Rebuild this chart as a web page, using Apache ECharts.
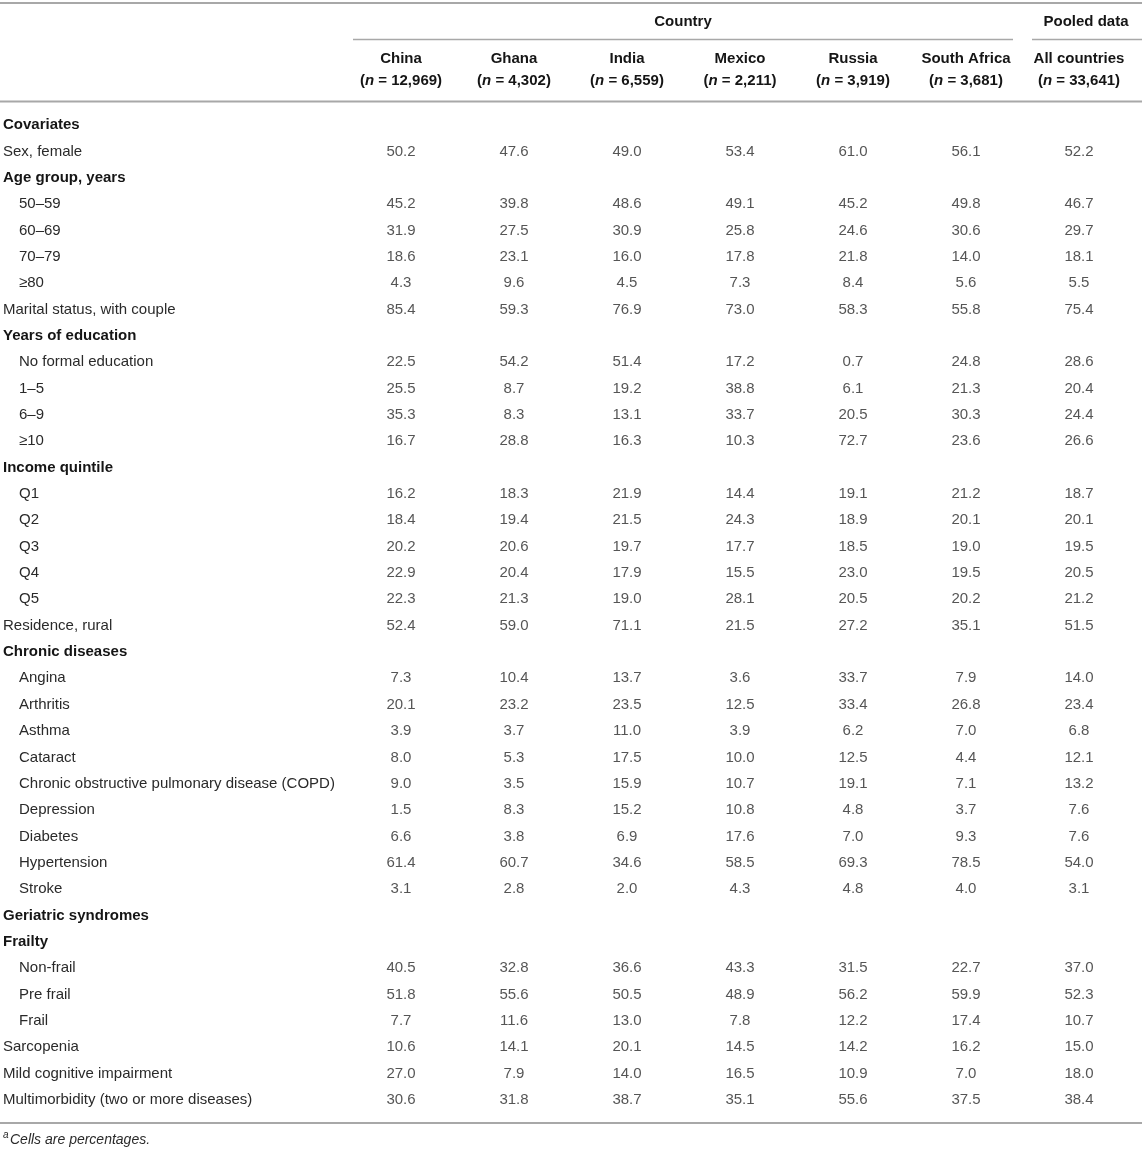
<!DOCTYPE html>
<html>
<head>
<meta charset="utf-8">
<title>Covariates and geriatric syndromes by country</title>
<script src="https://cdn.jsdelivr.net/npm/echarts@6/dist/echarts.min.js"></script>
<style>
  html, body { margin: 0; padding: 0; background: #fff; }
  #chart { width: 1142px; height: 1150px; }
</style>
</head>
<body>
<div id="chart"></div>
<script>
// columns of the table
const countries = ['China', 'Ghana', 'India', 'Mexico', 'Russia', 'South Africa', 'All countries'];
const sampleSizes = ['12,969', '4,302', '6,559', '2,211', '3,919', '3,681', '33,641'];

// row labels, and how each one is drawn: h = bold heading, m = plain, s = indented sub item
const rowLabels = [
  'Covariates', 'Sex, female', 'Age group, years', '50–59', '60–69', '70–79', '≥80',
  'Marital status, with couple', 'Years of education', 'No formal education', '1–5', '6–9', '≥10',
  'Income quintile', 'Q1', 'Q2', 'Q3', 'Q4', 'Q5', 'Residence, rural',
  'Chronic diseases', 'Angina', 'Arthritis', 'Asthma', 'Cataract',
  'Chronic obstructive pulmonary disease (COPD)', 'Depression', 'Diabetes', 'Hypertension', 'Stroke',
  'Geriatric syndromes', 'Frailty', 'Non-frail', 'Pre frail', 'Frail',
  'Sarcopenia', 'Mild cognitive impairment', 'Multimorbidity (two or more diseases)'
];
const rowKinds = [
  'h', 'm', 'h', 's', 's', 's', 's',
  'm', 'h', 's', 's', 's', 's',
  'h', 's', 's', 's', 's', 's', 'm',
  'h', 's', 's', 's', 's',
  's', 's', 's', 's', 's',
  'h', 'h', 's', 's', 's',
  'm', 'm', 'm'
];

// cell values (percentages), null for heading rows
const china = [null, 50.2, null, 45.2, 31.9, 18.6, 4.3, 85.4, null, 22.5, 25.5, 35.3, 16.7,
  null, 16.2, 18.4, 20.2, 22.9, 22.3, 52.4, null, 7.3, 20.1, 3.9, 8.0, 9.0, 1.5, 6.6, 61.4, 3.1,
  null, null, 40.5, 51.8, 7.7, 10.6, 27.0, 30.6];
const ghana = [null, 47.6, null, 39.8, 27.5, 23.1, 9.6, 59.3, null, 54.2, 8.7, 8.3, 28.8,
  null, 18.3, 19.4, 20.6, 20.4, 21.3, 59.0, null, 10.4, 23.2, 3.7, 5.3, 3.5, 8.3, 3.8, 60.7, 2.8,
  null, null, 32.8, 55.6, 11.6, 14.1, 7.9, 31.8];
const india = [null, 49.0, null, 48.6, 30.9, 16.0, 4.5, 76.9, null, 51.4, 19.2, 13.1, 16.3,
  null, 21.9, 21.5, 19.7, 17.9, 19.0, 71.1, null, 13.7, 23.5, 11.0, 17.5, 15.9, 15.2, 6.9, 34.6, 2.0,
  null, null, 36.6, 50.5, 13.0, 20.1, 14.0, 38.7];
const mexico = [null, 53.4, null, 49.1, 25.8, 17.8, 7.3, 73.0, null, 17.2, 38.8, 33.7, 10.3,
  null, 14.4, 24.3, 17.7, 15.5, 28.1, 21.5, null, 3.6, 12.5, 3.9, 10.0, 10.7, 10.8, 17.6, 58.5, 4.3,
  null, null, 43.3, 48.9, 7.8, 14.5, 16.5, 35.1];
const russia = [null, 61.0, null, 45.2, 24.6, 21.8, 8.4, 58.3, null, 0.7, 6.1, 20.5, 72.7,
  null, 19.1, 18.9, 18.5, 23.0, 20.5, 27.2, null, 33.7, 33.4, 6.2, 12.5, 19.1, 4.8, 7.0, 69.3, 4.8,
  null, null, 31.5, 56.2, 12.2, 14.2, 10.9, 55.6];
const southAfrica = [null, 56.1, null, 49.8, 30.6, 14.0, 5.6, 55.8, null, 24.8, 21.3, 30.3, 23.6,
  null, 21.2, 20.1, 19.0, 19.5, 20.2, 35.1, null, 7.9, 26.8, 7.0, 4.4, 7.1, 3.7, 9.3, 78.5, 4.0,
  null, null, 22.7, 59.9, 17.4, 16.2, 7.0, 37.5];
const pooled = [null, 52.2, null, 46.7, 29.7, 18.1, 5.5, 75.4, null, 28.6, 20.4, 24.4, 26.6,
  null, 18.7, 20.1, 19.5, 20.5, 21.2, 51.5, null, 14.0, 23.4, 6.8, 12.1, 13.2, 7.6, 7.6, 54.0, 3.1,
  null, null, 37.0, 52.3, 10.7, 15.0, 18.0, 38.4];

const columns = [china, ghana, india, mexico, russia, southAfrica, pooled];

const FONT = '"Liberation Sans", Arial, Helvetica, sans-serif';
const FS = 15;
const RULE = '#a8a8a8';
const INK = '#2a2a2a';
const BOLD_INK = '#151515';

const chart = echarts.init(document.getElementById('chart'), null, { renderer: 'canvas' });

// one scatter series per column, marks hidden, labels carry the numbers
const series = columns.map((vals, c) => ({
  type: 'scatter',
  name: countries[c],
  symbolSize: 1,
  itemStyle: { color: 'rgba(0,0,0,0)' },
  silent: true,
  label: {
    show: true,
    position: 'inside',
    color: INK,
    fontFamily: FONT,
    fontSize: FS,
    formatter: p => p.value[2].toFixed(1)
  },
  data: vals.map((v, r) => (v == null ? null : [c, r, v])).filter(d => d)
}));

chart.setOption({
  backgroundColor: '#fff',
  animation: false,
  textStyle: { fontFamily: FONT },
  grid: { left: 344.5, right: 6.5, top: 112, bottom: 37 },
  xAxis: {
    type: 'category',
    position: 'top',
    data: countries,
    axisLine: { show: false },
    axisTick: { show: false },
    splitLine: { show: false },
    axisLabel: {
      interval: 0,
      margin: 20,
      formatter: (v, i) => `{b|${v}}\n{p|(}{i|n}{p| = ${sampleSizes[i]})}`,
      rich: {
        b: { fontFamily: FONT, fontSize: FS, fontWeight: 'bold', color: BOLD_INK, lineHeight: 22 },
        p: { fontFamily: FONT, fontSize: FS, fontWeight: 'bold', color: BOLD_INK, lineHeight: 22 },
        i: { fontFamily: FONT, fontSize: FS, fontWeight: 'bold', fontStyle: 'italic', color: BOLD_INK, lineHeight: 22 }
      }
    }
  },
  yAxis: {
    type: 'category',
    inverse: true,
    data: rowLabels,
    axisLine: { show: false },
    axisTick: { show: false },
    splitLine: { show: false },
    axisLabel: {
      interval: 0,
      hideOverlap: false,
      align: 'left',
      margin: 341.5,
      formatter: (v, i) => `{${rowKinds[i]}|${v}}`,
      rich: {
        h: { fontFamily: FONT, fontSize: FS, fontWeight: 'bold', color: BOLD_INK },
        m: { fontFamily: FONT, fontSize: FS, color: INK },
        s: { fontFamily: FONT, fontSize: FS, color: INK, padding: [0, 0, 0, 16] }
      }
    }
  },
  series: series,
  graphic: [
    // table rules
    { type: 'line', shape: { x1: 0, y1: 3, x2: 1142, y2: 3 }, style: { stroke: RULE, lineWidth: 2 } },
    { type: 'line', shape: { x1: 353, y1: 39.5, x2: 1013, y2: 39.5 }, style: { stroke: RULE, lineWidth: 1.5 } },
    { type: 'line', shape: { x1: 1032, y1: 39.5, x2: 1142, y2: 39.5 }, style: { stroke: RULE, lineWidth: 1.5 } },
    { type: 'line', shape: { x1: 0, y1: 101.5, x2: 1142, y2: 101.5 }, style: { stroke: RULE, lineWidth: 2 } },
    { type: 'line', shape: { x1: 0, y1: 1123, x2: 1142, y2: 1123 }, style: { stroke: RULE, lineWidth: 2 } },
    // group headers
    {
      type: 'text', x: 683, y: 22,
      style: { text: 'Country', fontFamily: FONT, fontSize: FS, fontWeight: 'bold', fill: BOLD_INK, align: 'center', verticalAlign: 'middle' }
    },
    {
      type: 'text', x: 1086, y: 22,
      style: { text: 'Pooled data', fontFamily: FONT, fontSize: FS, fontWeight: 'bold', fill: BOLD_INK, align: 'center', verticalAlign: 'middle' }
    },
    // footnote
    {
      type: 'text', x: 3, y: 1135,
      style: { text: 'a', fontFamily: FONT, fontSize: 10, fontStyle: 'italic', fill: INK, verticalAlign: 'middle' }
    },
    {
      type: 'text', x: 10, y: 1140,
      style: { text: 'Cells are percentages.', fontFamily: FONT, fontSize: 14, fontStyle: 'italic', fill: INK, verticalAlign: 'middle' }
    }
  ]
});
</script>
</body>
</html>
